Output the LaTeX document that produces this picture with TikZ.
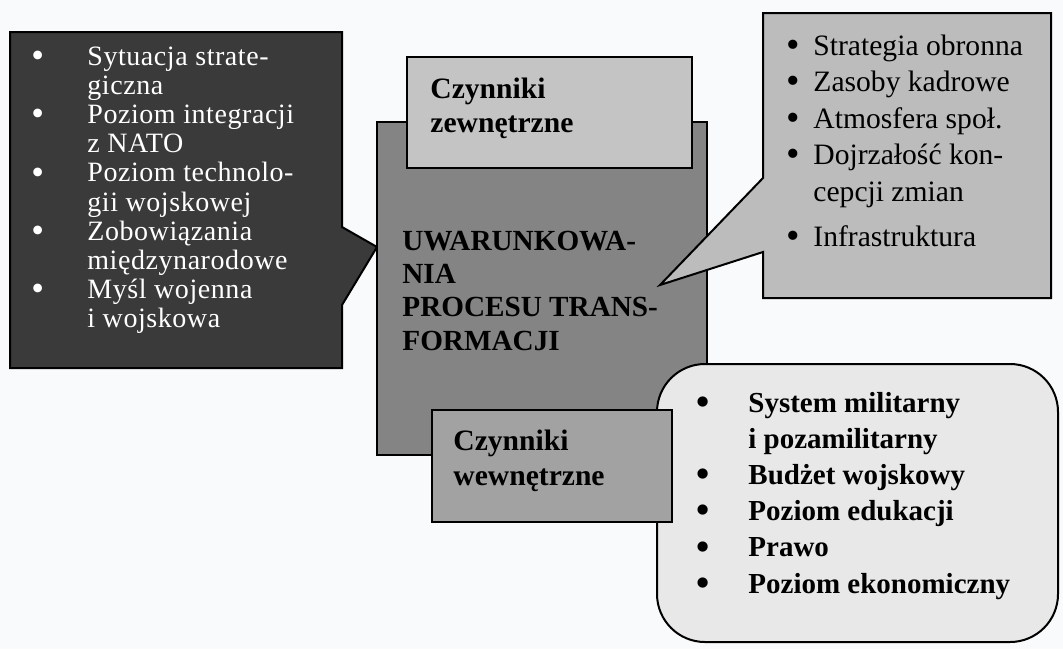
\documentclass[tikz,border=0pt]{standalone}
\usepackage{fontspec}
\setmainfont{Liberation Serif}
\newfontfamily\wideserif{Liberation Serif}[LetterSpace=2]
\definecolor{paper}{RGB}{249,250,251}
\definecolor{darkbox}{RGB}{58,58,58}
\definecolor{midbox}{RGB}{132,132,132}
\definecolor{lightbox}{RGB}{196,196,196}
\definecolor{tagbox}{RGB}{188,188,188}
\definecolor{roundbox}{RGB}{232,232,232}
\definecolor{lowtag}{RGB}{162,162,162}
\newcommand{\blt}[1]{\makebox[#1][l]{\raisebox{-0.08em}{\scalebox{1.3}{\textbullet}}}}

\begin{document}
\begin{tikzpicture}[x=0.5pt,y=-0.5pt,
    frame/.style={draw=black,line width=1pt},
    txt/.style={anchor=base west,inner sep=0pt}]
    \fill [paper] (0,0) rectangle (1063,649);
    \useasboundingbox (0,0) rectangle (1063,649);
    % callout tips
    \coordinate (lefttip) at (377,247);
    \coordinate (righttip) at (660,285);
    % boxes
    \draw [frame,fill=darkbox] (10,32) -- (342,32) -- (342,227) -- (lefttip) -- (342,305) -- (342,368) -- (10,368) -- cycle;
    \draw [frame,fill=midbox] (377,122) rectangle (707,455);
    \draw [frame,fill=lightbox] (407,57) rectangle (692,168);
    \draw [frame,fill=tagbox] (763,13) -- (1051,13) -- (1051,298) -- (763,298) -- (763,252) -- (righttip) -- (763,178) -- cycle;
    \draw [frame,fill=roundbox,rounded corners=24pt] (657,364) rectangle (1058,642);
    \draw [frame,fill=lowtag] (432,410) rectangle (672,522);
    % texts
    \node [txt,text=white,font={\wideserif\fontsize{14}{14.6}\selectfont}] (external) at (31,65) {\begin{tabular}[t]{@{}l@{}}
        \blt{28pt}Sytuacja strate-\\ \hspace*{28pt}giczna\\
        \blt{28pt}Poziom integracji\\ \hspace*{28pt}z NATO\\
        \blt{28pt}Poziom technolo-\\ \hspace*{28pt}gii wojskowej\\
        \blt{28pt}Zobowiązania\\ \hspace*{28pt}międzynarodowe\\
        \blt{28pt}Myśl wojenna\\ \hspace*{28pt}i wojskowa
        \end{tabular}};
    \node [txt,font={\bfseries\fontsize{14.6}{16.7}\selectfont}] (title) at (402,250) {\begin{tabular}[t]{@{}l@{}}
        UWARUNKOWA-\\ NIA\\ PROCESU TRANS-\\ FORMACJI
        \end{tabular}};
    \node [txt,font={\bfseries\fontsize{14.8}{17}\selectfont}] (outer) at (430,98) {\begin{tabular}[t]{@{}l@{}}
        Czynniki\\ zewnętrzne
        \end{tabular}};
    \node [txt,font={\bfseries\fontsize{14.8}{17.5}\selectfont}] (inner) at (453,450) {\begin{tabular}[t]{@{}l@{}}
        Czynniki\\ wewnętrzne
        \end{tabular}};
    \node [txt,font={\fontsize{14.8}{18.25}\selectfont}] (internal) at (786,55) {\begin{tabular}[t]{@{}l@{}}
        \blt{13.5pt}Strategia obronna\\
        \blt{13.5pt}Zasoby kadrowe\\
        \blt{13.5pt}Atmosfera społ.\\
        \blt{13.5pt}Dojrzałość kon-\\ \hspace*{13.5pt}cepcji zmian\\[4.5pt]
        \blt{13.5pt}Infrastruktura
        \end{tabular}};
    \node [txt,font={\bfseries\fontsize{14.5}{18.1}\selectfont}] (system) at (696,412) {\begin{tabular}[t]{@{}l@{}}
        \blt{26pt}System militarny\\ \hspace*{26pt}i pozamilitarny\\
        \blt{26pt}Budżet wojskowy\\
        \blt{26pt}Poziom edukacji\\
        \blt{26pt}Prawo\\
        \blt{26pt}Poziom ekonomiczny
        \end{tabular}};
\end{tikzpicture}
\end{document}
